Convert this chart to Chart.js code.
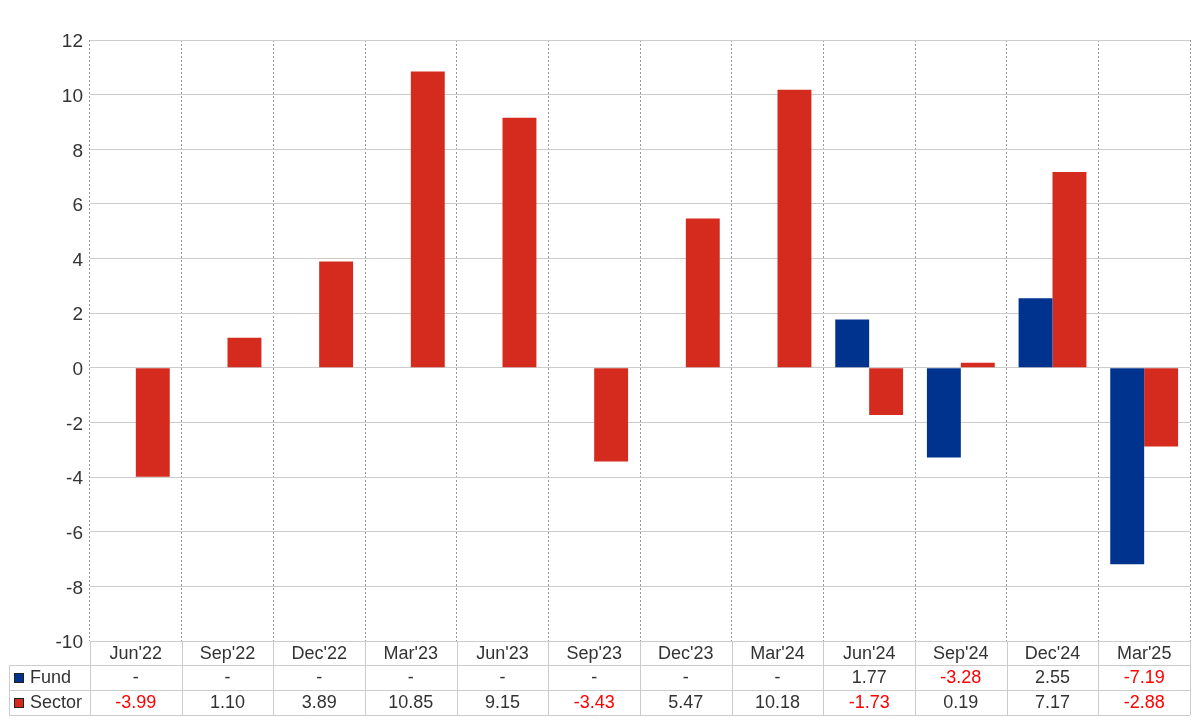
<!DOCTYPE html>
<html>
<head>
<meta charset="utf-8">
<script src="https://cdn.jsdelivr.net/npm/chart.js@4"></script>
<style>
  html, body { margin: 0; padding: 0; background: #fff; }
  #wrap { width: 1200px; height: 720px; }
</style>
</head>
<body>
<div id="wrap"><canvas id="grafico" width="1200" height="720"></canvas></div>
<script>
// dados
const categorias = ["Jun'22", "Sep'22", "Dec'22", "Mar'23", "Jun'23", "Sep'23", "Dec'23", "Mar'24", "Jun'24", "Sep'24", "Dec'24", "Mar'25"];
const valoresFund = [null, null, null, null, null, null, null, null, 1.77, -3.28, 2.55, -7.19];
const valoresSector = [-3.99, 1.10, 3.89, 10.85, 9.15, -3.43, 5.47, 10.18, -1.73, 0.19, 7.17, -2.88];
const ticksY = [-10, -8, -6, -4, -2, 0, 2, 4, 6, 8, 10, 12];

const corFund = '#00338d';
const corSector = '#d52b1e';
const corTexto = '#333333';
const corLinha = '#cccccc';
const fonte = '"Liberation Sans", Arial, sans-serif';

const ALT_LINHA = 25;

// tabela de dados por baixo do eixo x
const pluginTabela = {
    id: 'tabela',
    afterDraw(chart) {
        const ctx = chart.ctx;
        const area = chart.chartArea;
        const x = chart.scales.x;
        const topo = area.bottom;
        const yCat = topo + 24;
        const yFund = yCat + ALT_LINHA;
        const yFim = yFund + ALT_LINHA;
        const esq = 9;
        const largura = (area.right - area.left) / categorias.length;

        ctx.save();
        ctx.strokeStyle = corLinha;
        ctx.lineWidth = 1;
        ctx.beginPath();
        // linhas horizontais
        ctx.moveTo(area.left, topo + 0.5); ctx.lineTo(area.right, topo + 0.5);
        [yCat, yFund, yFim].forEach(y => {
            ctx.moveTo(esq, y + 0.5); ctx.lineTo(area.right, y + 0.5);
        });
        // linhas verticais
        ctx.moveTo(esq + 0.5, yCat); ctx.lineTo(esq + 0.5, yFim);
        for (let i = 0; i <= categorias.length; i++) {
            const px = Math.round(area.left + i * largura) + 0.5;
            ctx.moveTo(px, topo); ctx.lineTo(px, yFim);
        }
        ctx.stroke();

        ctx.font = '18px ' + fonte;
        ctx.textAlign = 'center';
        ctx.textBaseline = 'middle';

        categorias.forEach((c, i) => {
            const cx = x.getPixelForValue(i);
            ctx.fillStyle = corTexto;
            ctx.fillText(c, cx, topo + 13);

            const f = valoresFund[i];
            ctx.fillStyle = (f !== null && f < 0) ? '#ff0000' : corTexto;
            ctx.fillText(f === null ? '-' : f.toFixed(2), cx, yCat + 13);

            const s = valoresSector[i];
            ctx.fillStyle = (s !== null && s < 0) ? '#ff0000' : corTexto;
            ctx.fillText(s === null ? '-' : s.toFixed(2), cx, yFund + 13);
        });

        // legenda das linhas
        ctx.textAlign = 'left';
        [['Fund', corFund, yCat], ['Sector', corSector, yFund]].forEach(([nome, cor, y]) => {
            ctx.fillStyle = cor;
            ctx.fillRect(14, y + 8, 10, 10);
            ctx.strokeStyle = '#222';
            ctx.strokeRect(14.5, y + 8.5, 9, 9);
            ctx.fillStyle = corTexto;
            ctx.fillText(nome, 30, y + 13);
        });
        ctx.restore();
    }
};

new Chart(document.getElementById('grafico').getContext('2d'), {
    type: 'bar',
    data: {
        labels: categorias,
        datasets: [
            { label: 'Fund', data: valoresFund, backgroundColor: corFund },
            { label: 'Sector', data: valoresSector, backgroundColor: corSector }
        ]
    },
    options: {
        responsive: false,
        animation: false,
        layout: { padding: { top: 40, right: 10, bottom: 55, left: 0 } },
        datasets: { bar: { barPercentage: 1, categoryPercentage: 0.74 } },
        plugins: { legend: { display: false }, tooltip: { enabled: false } },
        scales: {
            x: {
                offset: true,
                grid: { color: '#999999', offset: true, drawTicks: false },
                border: { display: false, dash: [2, 2] },
                ticks: { display: false },
                afterFit: s => { s.height = 24; }
            },
            y: {
                min: -10, max: 12,
                afterBuildTicks: s => { s.ticks = ticksY.map(v => ({ value: v })); },
                grid: { color: corLinha, drawTicks: false },
                border: { display: false },
                ticks: { color: corTexto, font: { family: fonte, size: 19 }, padding: 7, labelOffset: 2 },
                afterFit: s => { s.width = 90; }
            }
        }
    },
    plugins: [pluginTabela]
});
</script>
</body>
</html>
